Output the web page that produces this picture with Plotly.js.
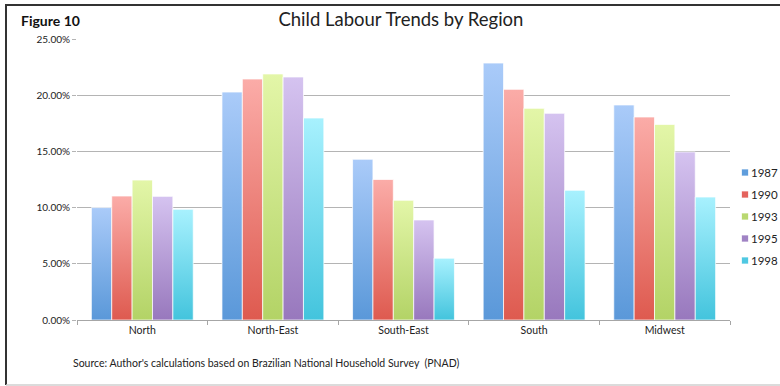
<!DOCTYPE html>
<html>
<head>
<meta charset="utf-8">
<script src="https://cdn.plot.ly/plotly-3.0.1.min.js"></script>
<style>
  html, body { margin: 0; padding: 0; background: #fff; }
  #chart { width: 780px; height: 386px; }
</style>
</head>
<body>
<div id="chart"></div>
<script>
// Regions along the x axis
const regions = ['North', 'North-East', 'South-East', 'South', 'Midwest'];

// Share of children working, by survey year (fraction of 1)
const y1987 = [0.1000, 0.2028, 0.1430, 0.2286, 0.1913];
const y1990 = [0.1103, 0.2144, 0.1250, 0.2052, 0.1806];
const y1993 = [0.1245, 0.2189, 0.1065, 0.1883, 0.1740];
const y1995 = [0.1100, 0.2162, 0.0890, 0.1839, 0.1495];
const y1998 = [0.0985, 0.1797, 0.0550, 0.1154, 0.1094];

const years = ['1987', '1990', '1993', '1995', '1998'];
const seriesValues = [y1987, y1990, y1993, y1995, y1998];

// Solid swatch colour plus top/bottom stops for the bar gradients
const swatch = ['#5f9ddc', '#e4635d', '#b9d870', '#a083c4', '#4fc8e2'];
const gradTop = ['#aacbf9', '#fbaca8', '#e3f6a8', '#d5c3f0', '#a8f1fe'];
const gradBottom = ['#5a98d9', '#de5a4f', '#b3d366', '#9878bd', '#43c4dd'];

const font = 'Lato, "Liberation Sans", sans-serif';

const traces = years.map((yr, i) => ({
  type: 'bar',
  name: yr,
  x: regions,
  y: seriesValues[i],
  legendgroup: yr,
  marker: { color: swatch[i], line: { color: 'rgba(255,255,255,0.9)', width: 0.8 } },
  hoverinfo: 'skip'
}));

// Plot area geometry (pixels) used to place paper-referenced items
const L = 77, R = 50, T = 39, B = 66, W = 780, H = 386;
const pw = W - L - R, ph = H - T - B;
const px = x => (x - L) / pw;
const py = y => (H - B - y) / ph;

const layout = {
  width: W,
  height: H,
  margin: { l: L, r: R, t: T, b: B, pad: 0, autoexpand: false },
  paper_bgcolor: '#fff',
  plot_bgcolor: '#fff',
  font: { family: font, size: 10, color: '#222' },
  barmode: 'group',
  bargap: 0.22,
  bargroupgap: 0,
  title: {
    text: 'Child Labour Trends by Region',
    font: { family: font, size: 18.5, color: '#222' },
    xref: 'container', x: 0.514, xanchor: 'center',
    yref: 'container', y: 1 - 20 / H, yanchor: 'middle'
  },
  xaxis: {
    type: 'category',
    showline: true, linecolor: '#a6a6a6', linewidth: 1,
    ticks: 'outside', tickson: 'boundaries', ticklen: 4, tickcolor: '#a6a6a6',
    showgrid: false,
    tickfont: { family: font, size: 10.5, color: '#222' },
    fixedrange: true
  },
  yaxis: {
    range: [0, 0.25],
    dtick: 0.05,
    tickformat: '.2%',
    showgrid: true, gridcolor: '#b4b4b4', gridwidth: 1,
    zeroline: false,
    showline: false,
    ticks: 'outside', ticklen: 4, tickcolor: '#b4b4b4',
    tickfont: { family: font, size: 10, color: '#222' },
    fixedrange: true
  },
  legend: {
    xref: 'container', yref: 'container',
    x: 725 / W, xanchor: 'left',
    y: 1 - 158 / H, yanchor: 'top',
    font: { family: font, size: 11.5, color: '#222' },
    tracegroupgap: 3,
    itemwidth: 30,
    bgcolor: 'rgba(0,0,0,0)'
  },
  annotations: [
    {
      text: '<b>Figure 10</b>',
      xref: 'paper', yref: 'paper',
      x: px(19), xanchor: 'left',
      y: py(21), yanchor: 'middle',
      showarrow: false,
      font: { family: font, size: 14, color: '#111' }
    },
    {
      text: "Source: Author's calculations based on Brazilian National Household Survey  (PNAD)",
      xref: 'paper', yref: 'paper',
      x: px(71), xanchor: 'left',
      y: py(363), yanchor: 'middle',
      showarrow: false,
      font: { family: font, size: 10.5, color: '#222' }
    }
  ],
  shapes: [
    // outer frame: dark on top and left, light along the bottom
    { type: 'line', xref: 'paper', yref: 'paper', x0: px(5), x1: px(782), y0: py(5), y1: py(5),
      line: { color: '#333', width: 2 } },
    { type: 'line', xref: 'paper', yref: 'paper', x0: px(6), x1: px(6), y0: py(5), y1: py(385),
      line: { color: '#333', width: 2 } },
    { type: 'line', xref: 'paper', yref: 'paper', x0: px(6), x1: px(782), y0: py(385), y1: py(385),
      line: { color: '#cfcfcf', width: 1.5 } }
  ]
};

Plotly.newPlot('chart', traces, layout, { staticPlot: true, displayModeBar: false }).then(gd => {
  // Vertical light-to-dark gradient on each series' bars
  const svgNS = 'http://www.w3.org/2000/svg';
  const svg = gd.querySelector('svg.main-svg');
  let defs = svg.querySelector('defs');
  if (!defs) { defs = document.createElementNS(svgNS, 'defs'); svg.insertBefore(defs, svg.firstChild); }
  years.forEach((yr, i) => {
    const g = document.createElementNS(svgNS, 'linearGradient');
    g.setAttribute('id', 'barGrad' + i);
    g.setAttribute('x1', '0'); g.setAttribute('y1', '0');
    g.setAttribute('x2', '0'); g.setAttribute('y2', '1');
    [[0, gradTop[i]], [1, gradBottom[i]]].forEach(([off, col]) => {
      const s = document.createElementNS(svgNS, 'stop');
      s.setAttribute('offset', off);
      s.setAttribute('stop-color', col);
      g.appendChild(s);
    });
    defs.appendChild(g);
  });
  gd.querySelectorAll('.barlayer .trace').forEach((tr, i) => {
    tr.querySelectorAll('.point path').forEach(p => { p.style.fill = 'url(#barGrad' + i + ')'; });
  });

  // Compact legend: small square keys with the year right beside them
  gd.querySelectorAll('.legend .traces').forEach(item => {
    item.querySelectorAll('.legendpoints path').forEach(p => p.setAttribute('d', 'M3.5,3.5H-3.5V-3.5H3.5Z'));
    item.querySelectorAll('text.legendtext').forEach(t => {
      t.setAttribute('x', '26');
      t.style.fill = '#222';
      t.querySelectorAll('tspan[x]').forEach(s => s.setAttribute('x', '26'));
    });
  });
});
</script>
</body>
</html>
